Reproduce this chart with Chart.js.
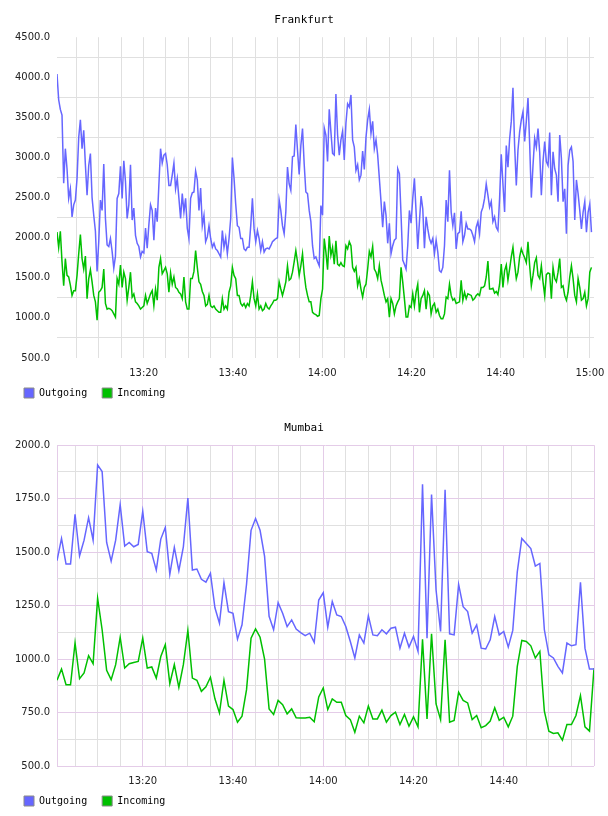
<!DOCTYPE html>
<html>
<head>
<meta charset="utf-8">
<title>Traffic</title>
<script src="https://cdn.jsdelivr.net/npm/chart.js@4.4.1/dist/chart.umd.min.js"></script>
<style>
  html, body { margin: 0; padding: 0; background: #fff; }
  .chart-box { width: 608px; height: 408px; }
</style>
</head>
<body>
<div class="chart-box"><canvas id="frankfurtChart" width="608" height="408"></canvas></div>
<div class="chart-box"><canvas id="mumbaiChart" width="608" height="408"></canvas></div>
<script>
// times are minutes after 13:00
const frankfurtStart = 0.6;
const frankfurtEnd = 120.33;

const frankfurtOutgoing = [
    4040, 3720, 3600, 3530, 2680, 3110, 2860, 2490, 2610, 2260,
    2410, 2470, 2740, 3250, 3470, 3110, 3340, 2910, 2530, 2900,
    3050, 2500, 2280, 2080, 1580, 1950, 2470, 2340, 2920, 2240,
    1910, 1890, 1990, 1830, 1620, 1770, 2490, 2550, 2890, 2490,
    2960, 2700, 2240, 2410, 2910, 2220, 2370, 2030, 1930, 1890,
    1760, 1830, 1810, 2120, 1870, 2160, 2410, 2340, 1970, 2370,
    2200, 2660, 3110, 2930, 3030, 3050, 2910, 2650, 2650, 2780,
    2930, 2610, 2740, 2490, 2240, 2550, 2320, 2490, 2120, 1990,
    2490, 2560, 2570, 2830, 2720, 2340, 2620, 2150, 2280, 1950,
    2010, 2150, 1990, 1880, 1930, 1860, 1840, 1800, 1760, 2090,
    1880, 2000, 1800, 1990, 2240, 3000, 2740, 2420, 2150, 2130,
    1990, 1990, 1860, 1840, 1880, 1880, 2150, 2490, 2110, 1950,
    2090, 1990, 1840, 1950, 1820, 1860, 1870, 1860, 1900, 1950,
    1970, 1990, 2000, 2470, 2340, 2150, 2050, 2320, 2880, 2670,
    2590, 3010, 3020, 3410, 3090, 2790, 3150, 3360, 2920, 2570,
    2550, 2340, 2200, 1900, 1740, 1760, 1700, 1650, 2400, 2280,
    3370, 3280, 2950, 3600, 3320, 3050, 3030, 3790, 3280, 3030,
    3220, 3330, 2970, 3430, 3670, 3630, 3780, 3220, 3130, 2840,
    2910, 2720, 2780, 3080, 2850, 3250, 3470, 3600, 3300, 3450,
    3110, 3220, 3030, 2740, 2450, 2130, 2450, 2280, 1930, 2180,
    1800, 1900, 1970, 1990, 2860, 2800, 2280, 1720, 1670, 1610,
    1900, 2340, 2180, 2490, 2740, 2320, 1860, 2200, 2520, 2360,
    1870, 2260, 2110, 1990, 1930, 1990, 1800, 1970, 1820, 1590,
    1570, 1630, 1900, 2470, 2200, 2840, 2320, 2150, 2310, 1860,
    2050, 2070, 2330, 1950, 2030, 2180, 2110, 2110, 2090, 2030,
    1950, 2130, 2200, 2050, 2320, 2380, 2490, 2670, 2530, 2380,
    2450, 2200, 2260, 2130, 2090, 2490, 3040, 2670, 2320, 3150,
    2880, 3230, 3450, 3870, 3150, 2650, 3090, 3320, 3470, 3570,
    3200, 3450, 3740, 3170, 2500, 2900, 3240, 3130, 3360, 3070,
    2530, 2950, 3200, 2950, 2900, 3310, 2530, 3070, 2860, 2780,
    2450, 3280, 2990, 2450, 2610, 2050, 2900, 3090, 3130, 2950,
    2220, 2720, 2550, 2340, 2110, 2320, 2450, 2070, 2320, 2420,
    2070
];

const frankfurtIncoming = [
    2070, 1880, 2080, 1700, 1400, 1740, 1530, 1510, 1410, 1280,
    1340, 1340, 1530, 1800, 2040, 1740, 1610, 1770, 1240, 1490,
    1600, 1450, 1280, 1200, 970, 1320, 1340, 1380, 1610, 1180,
    1110, 1120, 1110, 1090, 1050, 1010, 1490, 1420, 1660, 1380,
    1570, 1490, 1220, 1380, 1570, 1260, 1300, 1200, 1180, 1150,
    1110, 1130, 1150, 1280, 1180, 1240, 1300, 1340, 1150, 1360,
    1220, 1630, 1740, 1550, 1590, 1630, 1550, 1320, 1560, 1420,
    1510, 1380, 1360, 1320, 1300, 1240, 1510, 1200, 1110, 1110,
    1490, 1490, 1580, 1840, 1630, 1450, 1420, 1330, 1280, 1150,
    1170, 1280, 1150, 1130, 1150, 1110, 1090, 1070, 1070, 1240,
    1110, 1150, 1110, 1320, 1400, 1630, 1530, 1490, 1280, 1280,
    1180, 1150, 1180, 1130, 1180, 1150, 1280, 1450, 1240, 1150,
    1300, 1110, 1150, 1090, 1110, 1180, 1130, 1110, 1150, 1180,
    1220, 1220, 1240, 1450, 1360, 1280, 1360, 1450, 1650, 1470,
    1490, 1570, 1700, 1840, 1700, 1530, 1650, 1800, 1550, 1380,
    1280, 1200, 1200, 1070, 1050, 1040, 1020, 1030, 1240, 1360,
    1990, 1820, 1600, 2020, 1780, 1880, 1670, 1960, 1670, 1650,
    1690, 1650, 1640, 1900, 1860, 1950, 1900, 1630, 1580, 1630,
    1400, 1490, 1360, 1260, 1380, 1420, 1610, 1830, 1760, 1890,
    1610, 1570, 1490, 1650, 1470, 1380, 1280, 1200, 1240, 1010,
    1240, 1180, 1050, 1150, 1200, 1240, 1630, 1450, 1240, 1010,
    1010, 1150, 1130, 1300, 1150, 1320, 1420, 1070, 1240, 1280,
    1340, 1110, 1320, 1280, 1050, 1150, 1180, 1070, 1110, 1030,
    990, 990, 1050, 1260, 1240, 1420, 1280, 1220, 1240, 1180,
    1190, 1200, 1470, 1220, 1320, 1240, 1300, 1290, 1280, 1220,
    1240, 1280, 1300, 1280, 1380, 1380, 1400, 1510, 1710, 1360,
    1360, 1370, 1310, 1330, 1290, 1420, 1670, 1380, 1590, 1660,
    1470, 1610, 1760, 1880, 1670, 1490, 1570, 1760, 1860, 1800,
    1750, 1690, 1950, 1650, 1400, 1530, 1690, 1750, 1530, 1490,
    1650, 1450, 1280, 1540, 1560, 1550, 1240, 1630, 1490, 1450,
    1570, 1740, 1380, 1400, 1280, 1220, 1320, 1510, 1650, 1490,
    1280, 1200, 1490, 1380, 1220, 1240, 1320, 1150, 1240, 1570,
    1630
];

// one sample per minute, first one at 13:01
const mumbaiStart = 1;
const mumbaiEnd = 120;

const mumbaiOutgoing = [
    1460, 1564, 1444, 1444, 1677, 1483, 1556, 1661, 1556, 1908,
    1877, 1545, 1458, 1556, 1722, 1528, 1545, 1525, 1536, 1691,
    1502, 1494, 1416, 1561, 1615, 1396, 1522, 1413, 1525, 1753,
    1416, 1421, 1373, 1360, 1401, 1240, 1168, 1357, 1222, 1214,
    1093, 1160, 1350, 1602, 1657, 1602, 1480, 1200, 1137, 1264,
    1214, 1152, 1183, 1140, 1124, 1110, 1121, 1078, 1276, 1310,
    1149, 1269, 1206, 1199, 1152, 1082, 1005, 1113, 1075, 1202,
    1113, 1109, 1137, 1118, 1144, 1149, 1051, 1121, 1056, 1106,
    1036, 1817, 1098, 1769, 1323, 1129, 1792, 1118, 1113, 1349,
    1245, 1222, 1121, 1160, 1051, 1047, 1090, 1199, 1113, 1129,
    1056, 1134, 1408, 1564, 1540, 1517, 1435, 1447, 1137, 1020,
    1005, 966, 935, 1075, 1062, 1067, 1359, 1051, 953, 953
];

const mumbaiIncoming = [
    901, 953, 880, 880, 1075, 908, 935, 1016, 978, 1284,
    1137, 947, 904, 974, 1102, 958, 978, 984, 989, 1098,
    958, 963, 911, 1012, 1067, 885, 974, 868, 974, 1134,
    911, 901, 849, 870, 915, 814, 748, 901, 780, 764,
    705, 733, 857, 1098, 1141, 1102, 1000, 767, 741, 807,
    787, 744, 767, 725, 724, 725, 728, 707, 823, 865,
    764, 814, 798, 798, 736, 717, 658, 733, 702, 780,
    720, 720, 761, 705, 736, 752, 694, 741, 686, 730,
    683, 1093, 720, 1118, 790, 717, 1090, 705, 713, 845,
    807, 795, 717, 736, 679, 689, 710, 772, 714, 728,
    683, 733, 966, 1087, 1082, 1062, 1005, 1036, 756, 663,
    652, 655, 621, 694, 694, 736, 829, 683, 663, 958
];

const frankfurtYTicks = [500, 750, 1000, 1250, 1500, 1750, 2000, 2250, 2500, 2750, 3000, 3250, 3500, 3750, 4000, 4250, 4500];
const mumbaiYTicks = [500, 625, 750, 875, 1000, 1125, 1250, 1375, 1500, 1625, 1750, 1875, 2000];
const timeTicks = [5, 10, 15, 20, 25, 30, 35, 40, 45, 50, 55, 60, 65, 70, 75, 80, 85, 90, 95, 100, 105, 110, 115, 120];
const timeLabels = { 20: "13:20", 40: "13:40", 60: "14:00", 80: "14:20", 100: "14:40", 120: "15:00" };

const OUT_COLOR = "#6666ff";
const IN_COLOR = "#00c000";
const GRID_GREY = "#e0e0e0";
const GRID_PURPLE = "#e4cce8";
const CLEAR = "rgba(0,0,0,0)";

Chart.defaults.font.family = "'DejaVu Sans', sans-serif";

function toPoints(values, start, end) {
    const step = (end - start) / (values.length - 1);
    return values.map((v, i) => ({ x: start + i * step, y: v }));
}

function renderChart(canvasId, opts) {
    const ctx = document.getElementById(canvasId).getContext("2d");

    return new Chart(ctx, {
        type: "line",
        data: {
            datasets: [
                {
                    label: "Outgoing",
                    data: toPoints(opts.outgoing, opts.start, opts.end),
                    borderColor: OUT_COLOR,
                    borderWidth: 1.5,
                    pointRadius: 0,
                    tension: 0,
                    fill: false
                },
                {
                    label: "Incoming",
                    data: toPoints(opts.incoming, opts.start, opts.end),
                    borderColor: IN_COLOR,
                    borderWidth: 1.5,
                    pointRadius: 0,
                    tension: 0,
                    fill: false
                }
            ]
        },
        options: {
            responsive: false,
            animation: false,
            layout: { padding: { left: 9, right: 9, top: 0, bottom: 0 } },
            scales: {
                x: {
                    type: "linear",
                    min: opts.xMin,
                    max: opts.xMax,
                    afterBuildTicks: scale => {
                        scale.ticks = opts.xTicks.map(v => ({ value: v }));
                    },
                    afterFit: scale => {
                        scale.height = 15;
                        scale.paddingLeft = 0;
                        // 9px layout padding + 5px more, so the plot stops at 594
                        scale.paddingRight = 14;
                        // the time labels hang into the legend band, don't clip them
                        scale._computeLabelArea = () => null;
                    },
                    border: { display: false },
                    grid: {
                        drawTicks: false,
                        lineWidth: 1,
                        color: c => opts.xGridColor(c.tick.value)
                    },
                    ticks: {
                        autoSkip: false,
                        maxRotation: 0,
                        padding: 9,
                        color: "#222",
                        font: { size: 10 },
                        callback: v => (opts.showLabel(v) ? timeLabels[v] : "")
                    }
                },
                y: {
                    min: opts.yMin,
                    max: opts.yMax,
                    afterBuildTicks: scale => {
                        scale.ticks = opts.yTicks.map(v => ({ value: v }));
                    },
                    afterFit: scale => {
                        scale.width = 48;
                    },
                    border: { display: false },
                    grid: {
                        drawTicks: false,
                        lineWidth: 1,
                        color: c => opts.yGridColor(c.tick.value)
                    },
                    ticks: {
                        padding: 7,
                        color: "#222",
                        font: { size: 10 },
                        callback: v => (v % opts.labelStep === 0 ? v.toFixed(1) : "")
                    }
                }
            },
            plugins: {
                title: {
                    display: true,
                    text: opts.title,
                    color: "#000",
                    font: { family: "'DejaVu Sans Mono', monospace", size: 11, weight: "normal" },
                    padding: { top: 14, bottom: 10 }
                },
                legend: {
                    display: true,
                    position: "bottom",
                    align: "start",
                    labels: {
                        boxWidth: 10,
                        boxHeight: 10,
                        padding: 15,
                        color: "#000",
                        font: { family: "'DejaVu Sans Mono', monospace", size: 10 },
                        generateLabels: chart => chart.data.datasets.map((ds, i) => ({
                            text: ds.label,
                            fillStyle: ds.borderColor,
                            strokeStyle: "#8a8a8a",
                            lineWidth: 1,
                            hidden: false,
                            datasetIndex: i
                        }))
                    }
                },
                tooltip: { enabled: false }
            }
        }
    });
}

renderChart("frankfurtChart", {
    title: "Frankfurt",
    outgoing: frankfurtOutgoing,
    incoming: frankfurtIncoming,
    start: frankfurtStart,
    end: frankfurtEnd,
    xMin: 0.6,
    xMax: 120.9,
    xTicks: timeTicks,
    showLabel: v => v % 20 === 0,
    xGridColor: () => GRID_GREY,
    yMin: 500,
    yMax: 4500,
    yTicks: frankfurtYTicks,
    labelStep: 500,
    // only the in-between lines are drawn on this chart
    yGridColor: v => (v % 500 === 0 ? CLEAR : GRID_GREY)
});

renderChart("mumbaiChart", {
    title: "Mumbai",
    outgoing: mumbaiOutgoing,
    incoming: mumbaiIncoming,
    start: mumbaiStart,
    end: mumbaiEnd,
    xMin: mumbaiStart,
    xMax: mumbaiEnd,
    xTicks: [mumbaiStart].concat(timeTicks),
    showLabel: v => v % 20 === 0 && v < 120,
    xGridColor: v => (v === mumbaiStart || v % 20 === 0 ? GRID_PURPLE : GRID_GREY),
    yMin: 500,
    yMax: 2000,
    yTicks: mumbaiYTicks,
    labelStep: 250,
    yGridColor: v => (v % 250 === 0 ? GRID_PURPLE : GRID_GREY)
});
</script>
</body>
</html>
